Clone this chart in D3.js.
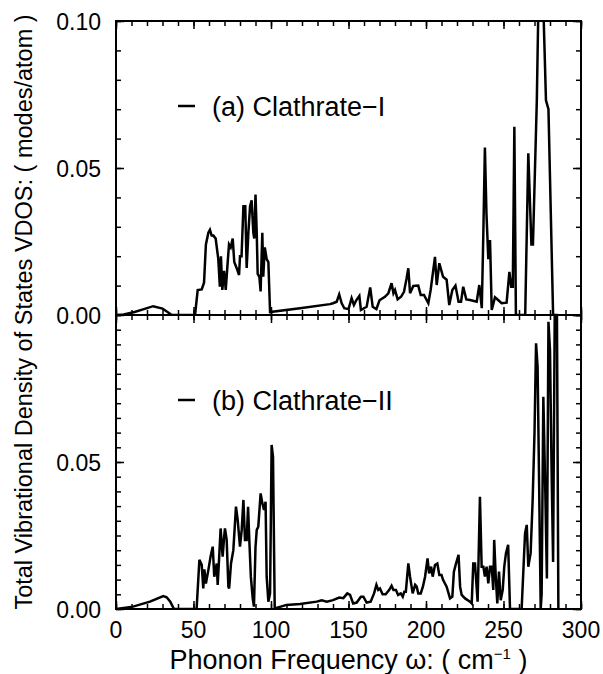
<!DOCTYPE html>
<html>
<head>
<meta charset="utf-8">
<script src="https://cdn.jsdelivr.net/npm/d3@7"></script>
<style>
  body { margin: 0; background: #fff; }
  svg text { font-family: "Liberation Sans", Arial, sans-serif; fill: #000; }
</style>
</head>
<body>
<div class="vdos"></div>
<script>
// (a) Clathrate-I : frequency (cm^-1) and VDOS (modes/atom)
var freqA = [0, 5, 12, 18, 24, 30, 36, 51, 52.7, 55.3, 56.8, 58, 59.6, 60.6, 61.7, 62.8, 64.3, 66, 67, 67.7, 68.6, 69.7, 70.8, 71.8, 72.9, 74, 75.3, 76.3, 77.8, 79.4, 80, 81, 82.2, 83.4, 84.3, 85.4, 86.5, 87.5, 88.6, 89.2, 90, 90.8, 91.4, 92.5, 93.3, 94.4, 95, 96, 97.2, 98.3, 99.4,
  118.7, 138, 140, 142.4, 144, 145.6, 147.3, 150, 152, 153.5, 155, 157, 158, 161.7, 164, 165.6, 168, 170, 173.5, 175.7, 177.8, 179, 180, 181.7, 183.9, 185.8, 187.5, 188.6, 189.7, 191.8, 195, 196.6, 198.7, 201.5, 203, 205.8, 206.9, 208.6, 211, 213.3, 215, 217, 219, 221, 222.6, 224, 226, 228.4, 232.7, 234.4, 236, 237, 238, 239, 240.2, 241.3, 242.4, 244.5, 246.7, 248.8, 252, 253.8, 255, 256, 257, 258, 264, 266, 268, 269, 271.5, 272.5, 274, 275.7, 277.4, 279, 282, 285];
var vdosA = [0, 0.0002, 0.001, 0.002, 0.003, 0.0022, 0, 0, 0.0085, 0.0087, 0.011, 0.024, 0.028, 0.029, 0.027, 0.027, 0.026, 0.019, 0.0096, 0.020, 0.0085, 0.015, 0.0085, 0.016, 0.024, 0.023, 0.026, 0.018, 0.016, 0.0136, 0.020, 0.020, 0.037, 0.037, 0.016, 0.028, 0.037, 0.039, 0.028, 0.026, 0.041, 0.028, 0.014, 0.013, 0.008, 0.028, 0.013, 0.023, 0.019, 0.018, 0.001,
  0.0023, 0.0037, 0.004, 0.0045, 0.007, 0.004, 0.0023, 0.002, 0.0057, 0.0034, 0.005, 0.0065, 0.0017, 0.0028, 0.0094, 0.0028, 0.002, 0.005, 0.0062, 0.0074, 0.0108, 0.0074, 0.0085, 0.0053, 0.0062, 0.0079, 0.0125, 0.0159, 0.0074, 0.0099, 0.010, 0.0068, 0.0068, 0.004, 0.0085, 0.0198, 0.0102, 0.0176, 0.013, 0.012, 0.0034, 0.0085, 0.010, 0.0045, 0.0045, 0.0096, 0.0053, 0.0051, 0.0045, 0.0102, 0.0023, 0.028, 0.057, 0.0346, 0.019, 0.0255, 0.0017, 0.006, 0.005, 0.004, 0.0042, 0.0147, 0.0096, 0.0096, 0.064, 0, 0, 0.055, 0.024, 0.024, 0.073, 0.105, 0.13, 0.105, 0.073, 0.07, 0, 0];

// (b) Clathrate-II
var freqB = [0, 11, 21.9, 30.5, 32.7, 35, 37.4, 52, 53.8, 55.3, 56.3, 57, 58, 59.6, 61, 62.4, 63.4, 65, 65.6, 66.7, 67.5, 68.8, 69.7, 70.3, 71.4, 72.5, 73, 74.2, 75.7, 77.4, 78.5, 80, 81.1, 82.2, 83.2, 84.3, 85.2, 86, 87, 88.2, 89, 90, 90.8, 91.8, 93.3, 94.4, 95.5, 96.5, 97.2, 98.3, 99.4, 100.4, 101.3, 102.4,
  110, 118.7, 129.5, 132.7, 136, 140, 144, 146.7, 149.2, 151, 153, 155.3, 158, 159.6, 161.7, 164.3, 166.5, 168, 169.2, 170.3, 172, 174, 176.3, 177.8, 179, 180.6, 182, 183.7, 185, 186, 187, 188.6, 189.7, 191.4, 193, 194, 195, 196.6, 198, 199.4, 201, 202, 203.3, 204.3, 205.8, 207.3, 208.6, 210, 211, 213.3, 215.5, 217, 218, 219.4, 221, 222, 223, 225.2, 228.4, 229.5, 230.5, 231.6, 233.3, 234.8, 235.9, 237, 238, 239.1, 240.2, 241.3, 242.4, 243.4, 244, 245, 246, 247.1, 248.2, 249.5, 250.5, 251.6, 253, 254.2, 261.7, 263.9, 265, 266, 267.5, 268.8, 270, 271, 272, 273, 274, 274.6, 275.7, 277, 278, 279, 280, 281, 282, 283.3, 284.3, 285.4];
var vdosB = [0, 0.0008, 0.0025, 0.0044, 0.004, 0.0025, 0, 0, 0.0167, 0.015, 0.007, 0.0135, 0.0087, 0.0133, 0.0178, 0.0212, 0.011, 0.0155, 0.0082, 0.019, 0.0274, 0.0178, 0.024, 0.0274, 0.0235, 0.0076, 0.007, 0.0155, 0.020, 0.0348, 0.0303, 0.0212, 0.0269, 0.0371, 0.0235, 0.0235, 0.0348, 0.0235, 0.011, 0.0036, 0.0008, 0.021, 0.0269, 0.028, 0.0393, 0.036, 0.0337, 0.0365, 0.011, 0.0025, 0.0053, 0.0558, 0.0518, 0.0002,
  0.0014, 0.0017, 0.0025, 0.003, 0.0025, 0.003, 0.0039, 0.0037, 0.0053, 0.0048, 0.0019, 0.0022, 0.0042, 0.0042, 0.0022, 0.0025, 0.0053, 0.0082, 0.0065, 0.007, 0.005, 0.005, 0.0065, 0.0079, 0.0065, 0.0065, 0.0048, 0.0053, 0.0042, 0.0059, 0.0059, 0.0155, 0.011, 0.0053, 0.0082, 0.0076, 0.0053, 0.0053, 0.0076, 0.011, 0.0172, 0.0121, 0.0144, 0.011, 0.015, 0.0155, 0.0116, 0.0116, 0.0099, 0.0076, 0.0036, 0.0042, 0.0127, 0.0155, 0.0184, 0.0076, 0.0048, 0.0036, 0.0025, 0.0019, 0.0155, 0.0155, 0.0025, 0.0382, 0.0144, 0.0144, 0.011, 0.0144, 0.0087, 0.0144, 0.0144, 0.0065, 0.0235, 0.011, 0.0019, 0.0127, 0.003, 0.0065, 0.0144, 0.019, 0.0218, 0, 0, 0.0257, 0.0286, 0.0144, 0.019, 0.037, 0.0598, 0.0904, 0.0824, 0.0416, 0, 0.005, 0.0722, 0.039, 0.0104, 0.0977, 0.088, 0.048, 0.016, 0.12, 0.12, 0];

var xTicks = [0, 50, 100, 150, 200, 250, 300];
var yTicksTop = [0, 0.05, 0.10];
var yTicksBot = [0, 0.05];
var labelA = "(a) Clathrate\u2212I";
var labelB = "(b) Clathrate\u2212II";

var W = 603, H = 674;
var mLeft = 116, mRight = 581, mTop = 21, mMid = 315, mBottom = 609;

var svg = d3.select(".vdos").append("svg")
    .attr("width", W).attr("height", H);

var x = d3.scaleLinear().domain([0, 300]).range([mLeft, mRight]);
var yA = d3.scaleLinear().domain([0, 0.1]).range([mMid, mTop]);
var yB = d3.scaleLinear().domain([0, 0.1]).range([mBottom, mMid]);

function panel(id, y, freq, vdos, yMinorStep, yLabels, label) {
    var y0 = y.range()[1], y1 = y.range()[0];
    svg.append("clipPath").attr("id", id)
      .append("rect").attr("x", mLeft).attr("y", y0).attr("width", mRight - mLeft).attr("height", y1 - y0);

    var pts = freq.map(function(f, i) { return [f, vdos[i]]; });
    var line = d3.line().x(function(d) { return x(d[0]); }).y(function(d) { return y(d[1]); });
    svg.append("path").datum(pts)
      .attr("clip-path", "url(#" + id + ")")
      .attr("d", line)
      .attr("fill", "none").attr("stroke", "#000")
      .attr("stroke-width", 2.5).attr("stroke-linejoin", "miter");

    var xMinor = d3.range(0, 301, 10);
    var yMinor = d3.range(0, 0.1001, yMinorStep);
    var g;
    // inward ticks on all sides
    svg.append("g").attr("transform", "translate(0," + y1 + ")")
      .call(d3.axisBottom(x).tickValues(xMinor).tickSize(-5).tickFormat(""));
    svg.append("g").attr("transform", "translate(0," + y1 + ")")
      .call(d3.axisBottom(x).tickValues(xTicks).tickSize(-8).tickFormat(""));
    svg.append("g").attr("transform", "translate(0," + y0 + ")")
      .call(d3.axisTop(x).tickValues(xMinor).tickSize(-5).tickFormat(""));
    svg.append("g").attr("transform", "translate(0," + y0 + ")")
      .call(d3.axisTop(x).tickValues(xTicks).tickSize(-8).tickFormat(""));
    svg.append("g").attr("transform", "translate(" + mLeft + ",0)")
      .call(d3.axisLeft(y).tickValues(yMinor).tickSize(-5).tickFormat(""));
    g = svg.append("g").attr("transform", "translate(" + mLeft + ",0)")
      .call(d3.axisLeft(y).tickValues(yLabels).tickSize(-8).tickPadding(15).tickFormat(d3.format(".2f")));
    g.selectAll("text").attr("font-size", 23).attr("dy", "0.38em")
      .attr("font-family", "Liberation Sans, Arial, sans-serif");
    svg.append("g").attr("transform", "translate(" + mRight + ",0)")
      .call(d3.axisRight(y).tickValues(yMinor).tickSize(-5).tickFormat(""));
    svg.append("g").attr("transform", "translate(" + mRight + ",0)")
      .call(d3.axisRight(y).tickValues([0, 0.05, 0.1]).tickSize(-8).tickFormat(""));

    svg.append("rect").attr("x", mLeft).attr("y", y0)
      .attr("width", mRight - mLeft).attr("height", y1 - y0)
      .attr("fill", "none").attr("stroke", "#000").attr("stroke-width", 2);

    // legend
    var ly = y0 + 85;
    svg.append("line").attr("x1", 178).attr("x2", 195).attr("y1", ly).attr("y2", ly)
      .attr("stroke", "#000").attr("stroke-width", 2.5);
    svg.append("text").attr("x", 212).attr("y", ly + 10)
      .attr("font-size", 27).text(label);
}

panel("clipA", yA, freqA, vdosA, 0.01, yTicksTop, labelA);
panel("clipB", yB, freqB, vdosB, 0.005, yTicksBot, labelB);

svg.selectAll(".domain").remove();
svg.selectAll(".tick line").attr("stroke", "#000").attr("stroke-width", 1.5);

// x tick labels
svg.append("g").selectAll("text").data(xTicks).enter().append("text")
    .attr("x", function(d) { return x(d); })
    .attr("y", 638)
    .attr("text-anchor", "middle")
    .attr("font-size", 23)
    .text(function(d) { return d; });

// axis titles
var xt = svg.append("text").attr("x", (mLeft + mRight) / 2).attr("y", 669)
    .attr("text-anchor", "middle").attr("font-size", 27);
xt.append("tspan").text("Phonon Frequency \u03c9: ( cm");
xt.append("tspan").attr("font-size", 15).attr("dy", -10).text("\u22121");
xt.append("tspan").attr("dy", 10).text(" )");

svg.append("text")
    .attr("transform", "translate(32,312) rotate(-90)")
    .attr("text-anchor", "middle").attr("font-size", 23.5)
    .text("Total Vibrational Density of States VDOS: ( modes/atom )");
</script>
</body>
</html>
